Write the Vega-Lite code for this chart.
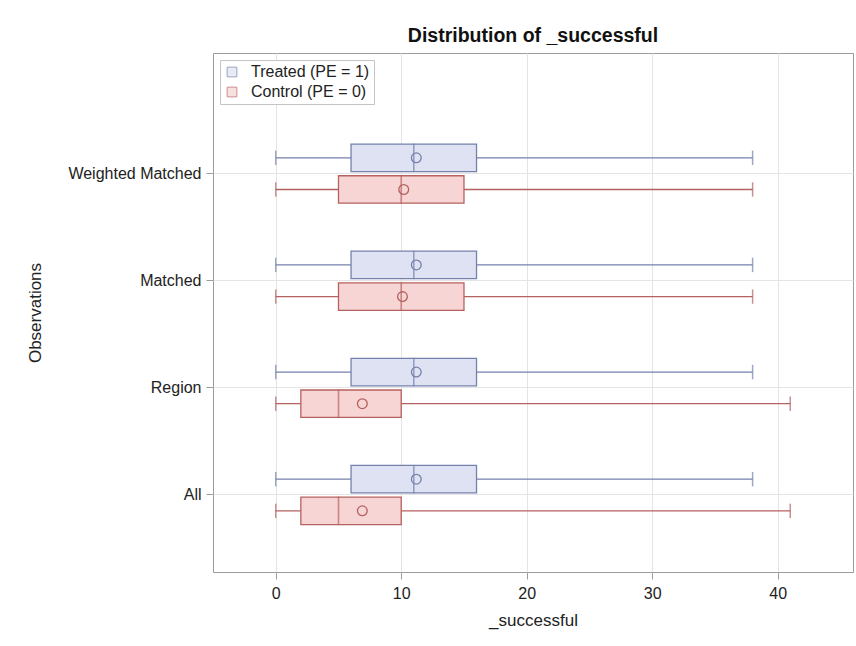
{
  "$schema": "https://vega.github.io/schema/vega-lite/v6.json",
  "autosize": "none",
  "width": 640,
  "height": 519,
  "padding": {"left": 213, "top": 53, "right": 3, "bottom": 74},
  "background": "white",
  "title": {
    "text": "Distribution of _successful",
    "font": "Liberation Sans",
    "fontSize": 19.5,
    "fontWeight": "bold",
    "color": "#111111",
    "anchor": "middle",
    "offset": 7
  },
  "config": {
    "font": "Liberation Sans",
    "view": {"stroke": "#9c9c9c", "strokeWidth": 1},
    "axis": {
      "labelFont": "Liberation Sans",
      "titleFont": "Liberation Sans",
      "labelColor": "#222222",
      "titleColor": "#222222",
      "titleFontWeight": "normal",
      "domain": false,
      "tickColor": "#9c9c9c",
      "tickSize": 7,
      "gridColor": "#e4e4e4",
      "gridWidth": 1
    },
    "legend": {
      "labelFont": "Liberation Sans",
      "orient": "top-left",
      "offset": 7,
      "padding": 4,
      "strokeColor": "#c4c4c4",
      "fillColor": "white",
      "symbolType": "square",
      "symbolSize": 95,
      "symbolStrokeWidth": 1,
      "labelFontSize": 16,
      "labelColor": "#222222",
      "labelOffset": 11,
      "rowPadding": 4
    }
  },
  "data": {
    "values": [
      {"obs": "Weighted Matched", "group": "Treated (PE = 1)", "min": 0, "q1": 6, "median": 11, "q3": 16, "max": 38, "mean": 11.2},
      {"obs": "Weighted Matched", "group": "Control (PE = 0)", "min": 0, "q1": 5, "median": 10, "q3": 15, "max": 38, "mean": 10.2},
      {"obs": "Matched", "group": "Treated (PE = 1)", "min": 0, "q1": 6, "median": 11, "q3": 16, "max": 38, "mean": 11.2},
      {"obs": "Matched", "group": "Control (PE = 0)", "min": 0, "q1": 5, "median": 10, "q3": 15, "max": 38, "mean": 10.1},
      {"obs": "Region", "group": "Treated (PE = 1)", "min": 0, "q1": 6, "median": 11, "q3": 16, "max": 38, "mean": 11.2},
      {"obs": "Region", "group": "Control (PE = 0)", "min": 0, "q1": 2, "median": 5, "q3": 10, "max": 41, "mean": 6.9},
      {"obs": "All", "group": "Treated (PE = 1)", "min": 0, "q1": 6, "median": 11, "q3": 16, "max": 38, "mean": 11.2},
      {"obs": "All", "group": "Control (PE = 0)", "min": 0, "q1": 2, "median": 5, "q3": 10, "max": 41, "mean": 6.9}
    ]
  },
  "encoding": {
    "y": {
      "field": "obs",
      "type": "nominal",
      "sort": ["Weighted Matched", "Matched", "Region", "All"],
      "scale": {"paddingInner": 0, "paddingOuter": 0.4226, "align": 0.741},
      "axis": {
        "title": "Observations",
        "titleFontSize": 17,
        "titlePadding": 23,
        "labelFontSize": 16,
        "labelPadding": 5,
        "grid": true,
        "bandPosition": 0.5
      }
    },
    "yOffset": {
      "field": "group",
      "type": "nominal",
      "sort": ["Treated (PE = 1)", "Control (PE = 0)"],
      "scale": {"paddingInner": 0.1325, "paddingOuter": 0.757}
    }
  },
  "layer": [
    {
      "mark": {"type": "rule", "strokeWidth": 1.3},
      "encoding": {
        "x": {
          "field": "min",
          "type": "quantitative",
          "scale": {"domain": [-5, 46], "nice": false, "zero": false},
          "axis": {
            "title": "_successful",
            "titleFontSize": 17,
            "titlePadding": 11,
            "labelFontSize": 16,
            "labelPadding": 6,
            "values": [0, 10, 20, 30, 40],
            "grid": true
          }
        },
        "x2": {"field": "max"},
        "stroke": {
          "field": "group",
          "type": "nominal",
          "title": null,
          "scale": {"domain": ["Treated (PE = 1)", "Control (PE = 0)"], "range": ["#7481ad", "#b5615f"]}
        }
      }
    },
    {
      "mark": {"type": "tick", "size": 13, "thickness": 0.1, "filled": false, "strokeWidth": 1.4},
      "encoding": {
        "x": {"field": "min", "type": "quantitative"},
        "stroke": {"field": "group", "type": "nominal", "title": null}
      }
    },
    {
      "mark": {"type": "tick", "size": 13, "thickness": 0.1, "filled": false, "strokeWidth": 1.4},
      "encoding": {
        "x": {"field": "max", "type": "quantitative"},
        "stroke": {"field": "group", "type": "nominal", "title": null}
      }
    },
    {
      "mark": {"type": "bar", "strokeWidth": 1.3, "opacity": 1},
      "encoding": {
        "x": {"field": "q1", "type": "quantitative"},
        "x2": {"field": "q3"},
        "fill": {
          "field": "group",
          "type": "nominal",
          "title": null,
          "scale": {"domain": ["Treated (PE = 1)", "Control (PE = 0)"], "range": ["#dfe2f2", "#f7d5d5"]}
        },
        "stroke": {"field": "group", "type": "nominal", "title": null}
      }
    },
    {
      "mark": {"type": "tick", "size": 27, "thickness": 0.1, "filled": false, "strokeWidth": 1.5},
      "encoding": {
        "x": {"field": "median", "type": "quantitative"},
        "stroke": {"field": "group", "type": "nominal", "title": null}
      }
    },
    {
      "mark": {"type": "point", "shape": "circle", "filled": false, "size": 95, "strokeWidth": 1.3, "opacity": 1},
      "encoding": {
        "x": {"field": "mean", "type": "quantitative"},
        "stroke": {"field": "group", "type": "nominal", "title": null}
      }
    }
  ]
}
